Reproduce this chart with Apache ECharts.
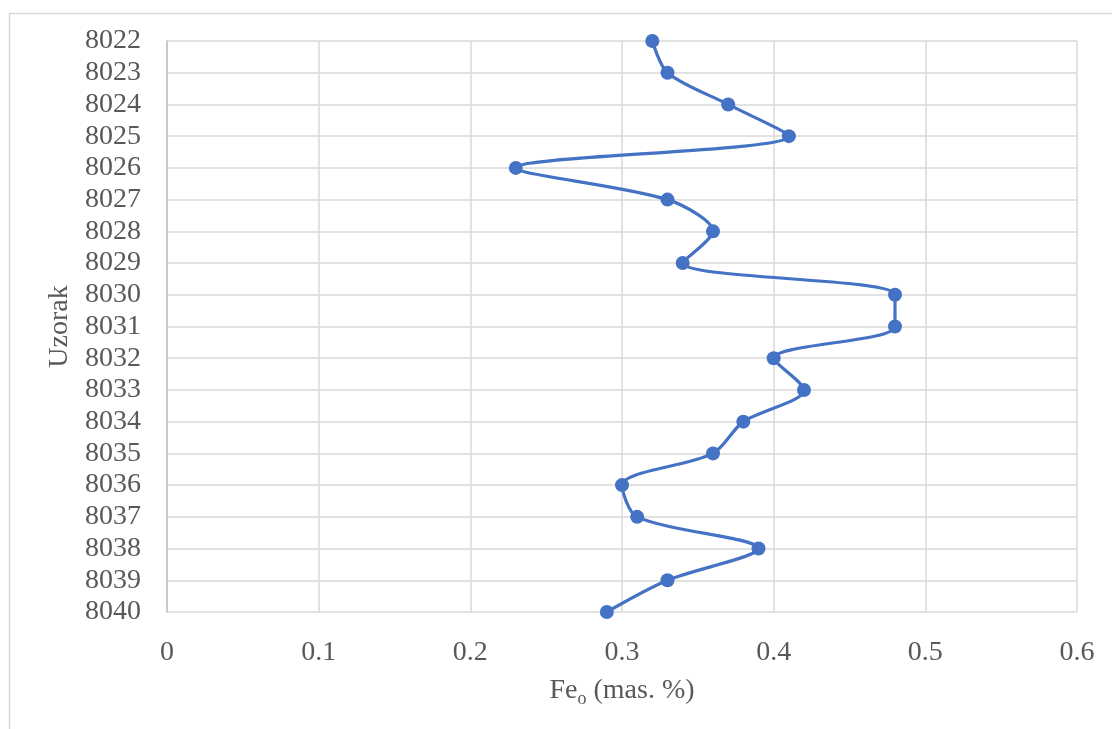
<!DOCTYPE html>
<html>
<head>
<meta charset="utf-8">
<script src="https://cdn.jsdelivr.net/npm/echarts@6/dist/echarts.min.js"></script>
<style>
html,body{margin:0;padding:0;background:#fff;}
#chart{width:1112px;height:729px;}
</style>
</head>
<body>
<div id="chart"></div>
<script>
var samples = ['8022','8023','8024','8025','8026','8027','8028','8029','8030','8031','8032','8033','8034','8035','8036','8037','8038','8039','8040'];
var feValues = [0.32,0.33,0.37,0.41,0.23,0.33,0.36,0.34,0.48,0.48,0.40,0.42,0.38,0.36,0.30,0.31,0.39,0.33,0.29];
var xTicks = [0,0.1,0.2,0.3,0.4,0.5,0.6];

var font = '"Liberation Serif","Times New Roman",serif';
var chart = echarts.init(document.getElementById('chart'), null, {renderer:'canvas'});
chart.setOption({
  backgroundColor:'#fff',
  animation:false,
  graphic:[{type:'rect',left:7,top:11,shape:{width:1200,height:800},style:{fill:'none',stroke:'#d9d9d9',lineWidth:1.5},silent:true,z:-1}],
  grid:{left:167,right:35,top:41,bottom:117},
  xAxis:{
    type:'value',min:xTicks[0],max:xTicks[xTicks.length-1],interval:0.1,
    axisLine:{show:false},axisTick:{show:false},
    splitLine:{show:true,lineStyle:{color:'#d9d9d9',width:1.5}},
    axisLabel:{color:'#595959',fontFamily:font,fontSize:28,margin:27,
      formatter:function(v){return v===0?'0':v.toFixed(1);}},
    name:'{a|Fe}{s|o}{a| (mas. %)}',nameLocation:'middle',nameGap:62,
    nameTextStyle:{rich:{a:{color:'#595959',fontFamily:font,fontSize:28},s:{color:'#595959',fontFamily:font,fontSize:18,padding:[16,0,0,0]}}}
  },
  yAxis:{
    type:'category',data:samples,inverse:true,boundaryGap:false,
    axisLine:{show:true,lineStyle:{color:'#bfbfbf',width:1.5}},axisTick:{show:false},
    splitLine:{show:true,interval:0,lineStyle:{color:'#d9d9d9',width:1.5}},
    axisLabel:{color:'#595959',fontFamily:font,fontSize:28,margin:26,interval:0},
    name:'Uzorak',nameLocation:'middle',nameGap:93,nameRotate:90,
    nameTextStyle:{color:'#595959',fontFamily:font,fontSize:28}
  },
  series:[{
    type:'line',data:feValues,smooth:0.3,
    symbol:'circle',symbolSize:14,
    lineStyle:{color:'#4472C4',width:3.2},
    itemStyle:{color:'#4472C4'}
  }]
});
</script>
</body>
</html>
